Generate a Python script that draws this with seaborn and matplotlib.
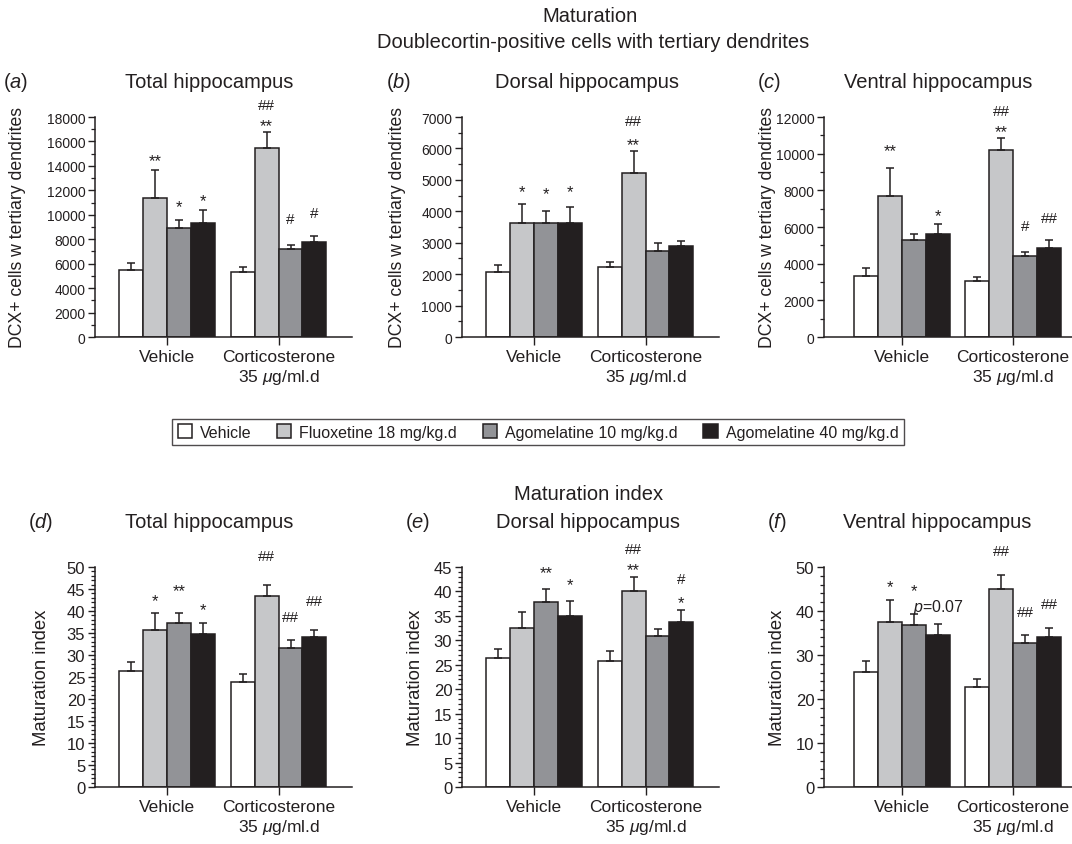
import numpy as np
import pandas as pd
import matplotlib
matplotlib.use("Agg")
import matplotlib.pyplot as plt
import seaborn as sns
from matplotlib.ticker import MultipleLocator

# ---------------- data ----------------
DRUGS = ["Vehicle", "Fluoxetine 18 mg/kg.d", "Agomelatine 10 mg/kg.d", "Agomelatine 40 mg/kg.d"]
TREATMENTS = ["Vehicle", "Corticosterone"]
TREATMENT_LABELS = ["Vehicle", "Corticosterone\n35 $\\mathit{\\mu}$g/ml.d"]
COLORS = ["#ffffff", "#c6c7c9", "#929397", "#231f20"]

# (a) total hippocampus, DCX+ cells with tertiary dendrites
a_mean_vehicle = [5450, 11400, 8950, 9300]
a_err_vehicle = [580, 2300, 660, 1070]
a_mean_cort = [5350, 15450, 7230, 7800]
a_err_cort = [410, 1340, 330, 470]
a_marks = [("**", 0, 1, 14850), ("*", 0, 2, 11150), ("*", 0, 3, 11640),
           ("**", 1, 1, 17730), ("##", 1, 1, 19100), ("#", 1, 2, 9780), ("#", 1, 3, 10270)]

# (b) dorsal hippocampus
b_mean_vehicle = [2070, 3620, 3620, 3620]
b_err_vehicle = [215, 615, 385, 520]
b_mean_cort = [2220, 5220, 2750, 2880]
b_err_cort = [180, 710, 245, 170]
b_marks = [("*", 0, 1, 4800), ("*", 0, 2, 4750), ("*", 0, 3, 4800),
           ("**", 1, 1, 6290), ("##", 1, 1, 6930)]

# (c) ventral hippocampus
c_mean_vehicle = [3350, 7700, 5280, 5620]
c_err_vehicle = [435, 1525, 345, 560]
c_mean_cort = [3080, 10190, 4440, 4840]
c_err_cort = [220, 670, 220, 450]
c_marks = [("**", 0, 1, 10460), ("*", 0, 3, 6920), ("**", 1, 1, 11490),
           ("##", 1, 1, 12400), ("#", 1, 2, 6110), ("##", 1, 3, 6560)]

# (d) maturation index, total
d_mean_vehicle = [26.4, 35.6, 37.2, 34.8]
d_err_vehicle = [2.0, 4.0, 2.4, 2.4]
d_mean_cort = [23.9, 43.3, 31.7, 34.0]
d_err_cort = [1.7, 2.6, 1.6, 1.7]
d_marks = [("*", 0, 1, 43.6), ("**", 0, 2, 45.8), ("*", 0, 3, 41.5),
           ("##", 1, 1, 52.9), ("##", 1, 2, 38.9), ("##", 1, 3, 42.7)]

# (e) maturation index, dorsal
e_mean_vehicle = [26.4, 32.5, 37.9, 35.0]
e_err_vehicle = [1.9, 3.2, 2.7, 3.0]
e_mean_cort = [25.8, 40.0, 30.8, 33.7]
e_err_cort = [2.1, 2.9, 1.5, 2.5]
e_marks = [("**", 0, 2, 45.0), ("*", 0, 3, 42.5), ("**", 1, 1, 45.5),
           ("##", 1, 1, 49.0), ("*", 1, 3, 38.9), ("#", 1, 3, 42.8)]

# (f) maturation index, ventral
f_mean_vehicle = [26.2, 37.6, 36.8, 34.5]
f_err_vehicle = [2.4, 4.9, 2.5, 2.5]
f_mean_cort = [22.7, 45.0, 32.8, 34.2]
f_err_cort = [1.8, 3.1, 1.8, 1.9]
f_marks = [("*", 0, 1, 46.8), ("*", 0, 2, 45.9), ("##", 1, 1, 54.0),
           ("##", 1, 2, 40.0), ("##", 1, 3, 42.0)]
f_pvalue = ("$\\mathit{p}$=0.07", 0, 2, 41.0)

# ---------------- style ----------------
sns.set_theme(style="ticks")
plt.rcParams["font.family"] = ["Liberation Sans", "DejaVu Sans"]
plt.rcParams["mathtext.fontset"] = "custom"
plt.rcParams["mathtext.rm"] = "Liberation Sans"
plt.rcParams["mathtext.it"] = "Liberation Sans:italic"
plt.rcParams["mathtext.bf"] = "Liberation Sans:bold"
plt.rcParams["text.color"] = "#231f20"
plt.rcParams["axes.labelcolor"] = "#231f20"
plt.rcParams["xtick.color"] = "#231f20"
plt.rcParams["ytick.color"] = "#231f20"

INK = "#231f20"
W, H = 1072, 845
fig = plt.figure(figsize=(W / 100, H / 100), dpi=100)
fig.patch.set_facecolor("white")


def px_axes(left, top, width, height):
    return fig.add_axes([left / W, 1 - (top + height) / H, width / W, height / H])


def draw_panel(left, top, xlim, ylim, major, minor, mv, ev, mc, ec, marks,
               ylabel, ylabel_x, ylabsize, yticksize, legend=False):
    ax = px_axes(left, top, 257, 220)
    df = pd.DataFrame({
        "treatment": np.repeat(TREATMENTS, len(DRUGS)),
        "drug": DRUGS * 2,
        "value": list(mv) + list(mc),
    })
    sns.barplot(data=df, x="treatment", y="value", hue="drug", order=TREATMENTS,
                hue_order=DRUGS, palette=COLORS, saturation=1, width=0.86,
                errorbar=None, edgecolor=INK, linewidth=1.1, legend=legend, ax=ax)
    errs = [ev, ec]
    xs, ys, es = [], [], []
    centers = {}
    for d, cont in enumerate(ax.containers):
        for g, bar in enumerate(cont):
            x = bar.get_x() + bar.get_width() / 2
            y = bar.get_height()
            centers[(g, d)] = x
            xs.append(x)
            ys.append(y)
            es.append(errs[g][d])
    ax.errorbar(xs, ys, yerr=[np.zeros(len(es)), es], fmt="none", ecolor=INK,
                elinewidth=1.1, capsize=2.7, capthick=1.1, zorder=3)
    for txt, g, d, y in marks:
        fs = 12 if "*" in txt else 11
        off = 0.60 * fs if "*" in txt else 0.36 * fs
        ax.annotate(txt, xy=(centers[(g, d)], y), xytext=(0, -off),
                    textcoords="offset points", ha="center", va="baseline",
                    fontsize=fs, color=INK, annotation_clip=False)
    ax.set_xlim(*xlim)
    ax.set_ylim(*ylim)
    ax.yaxis.set_major_locator(MultipleLocator(major))
    ax.yaxis.set_minor_locator(MultipleLocator(minor))
    ax.set_xticks([0, 1])
    ax.set_xticklabels(TREATMENT_LABELS, fontsize=12.5, linespacing=1.2)
    ax.set_xlabel("")
    ax.set_ylabel(ylabel, fontsize=ylabsize, va="center")
    ax.yaxis.set_label_coords((ylabel_x - left) / 257, 0.5)
    sns.despine(ax=ax)
    for s in ("left", "bottom"):
        ax.spines[s].set_linewidth(1.1)
        ax.spines[s].set_color(INK)
    ax.tick_params(axis="y", which="major", length=5, width=1.0, labelsize=yticksize, pad=2)
    ax.tick_params(axis="y", which="minor", length=3, width=0.9)
    ax.tick_params(axis="x", which="major", length=6, width=1.0, pad=3)
    ax.set_facecolor("white")
    return ax, centers


TOP1, TOP2 = 118, 568
XL_A = (-0.65, 1.66)
XL_C = (-0.70, 1.61)
YL_TOP = "DCX+ cells w tertiary dendrites"
YL_BOT = "Maturation index"

ax_a, _ = draw_panel(95, TOP1, XL_A, (0, 18000), 2000, 1000, a_mean_vehicle, a_err_vehicle,
                     a_mean_cort, a_err_cort, a_marks, YL_TOP, 18, 12.7, 10, legend=True)
handles, labels = ax_a.get_legend_handles_labels()
ax_a.get_legend().remove()
draw_panel(462, TOP1, XL_A, (0, 7000), 1000, 500, b_mean_vehicle, b_err_vehicle,
           b_mean_cort, b_err_cort, b_marks, YL_TOP, 398, 12.7, 10)
draw_panel(824, TOP1, XL_C, (0, 12000), 2000, 1000, c_mean_vehicle, c_err_vehicle,
           c_mean_cort, c_err_cort, c_marks, YL_TOP, 767, 12.7, 10)
draw_panel(95, TOP2, XL_A, (0, 50), 5, 1, d_mean_vehicle, d_err_vehicle,
           d_mean_cort, d_err_cort, d_marks, YL_BOT, 42, 13.3, 12)
draw_panel(462, TOP2, XL_A, (0, 45), 5, 1, e_mean_vehicle, e_err_vehicle,
           e_mean_cort, e_err_cort, e_marks, YL_BOT, 415, 13.3, 12)
ax_f, cf = draw_panel(824, TOP2, XL_C, (0, 50), 10, 2, f_mean_vehicle, f_err_vehicle,
                      f_mean_cort, f_err_cort, f_marks, YL_BOT, 777, 13.3, 12)
ptxt, pg, pd_, py = f_pvalue
ax_f.text(cf[(pg, pd_)] - 0.005, py, ptxt, ha="left", va="center", fontsize=11.5, color=INK)

# ---------------- texts ----------------
def ftext(x, y, s, **kw):
    fig.text(x / W, 1 - y / H, s, color=INK, **kw)

ftext(590, 17, "Maturation", ha="center", va="center", fontsize=14.5)
ftext(593, 42, "Doublecortin-positive cells with tertiary dendrites", ha="center", va="center", fontsize=14.5)
ftext(589, 495, "Maturation index", ha="center", va="center", fontsize=14.5)

for letter, lx, ly in [("a", 3, 82), ("b", 386, 82), ("c", 757, 82),
                       ("d", 28, 523), ("e", 405, 523), ("f", 767, 523)]:
    ftext(lx, ly, "($\\mathit{%s}$)" % letter, ha="left", va="center", fontsize=14.5)

for title, cx, cy in [("Total hippocampus", 209, 82), ("Dorsal hippocampus", 587, 82),
                      ("Ventral hippocampus", 938, 82), ("Total hippocampus", 209, 523),
                      ("Dorsal hippocampus", 588, 523), ("Ventral hippocampus", 937, 523)]:
    ftext(cx, cy, title, ha="center", va="center", fontsize=14.5)

leg = fig.legend(handles, labels, loc="center", bbox_to_anchor=(538 / W, 1 - 433 / H),
                 ncol=4, frameon=True, fancybox=False, edgecolor=INK, fontsize=11.5,
                 handlelength=0.9, handleheight=0.9, handletextpad=0.5,
                 columnspacing=1.6, borderpad=0.35)
leg.get_frame().set_linewidth(1.0)

fig.savefig("out.png", dpi=100, facecolor="white")
